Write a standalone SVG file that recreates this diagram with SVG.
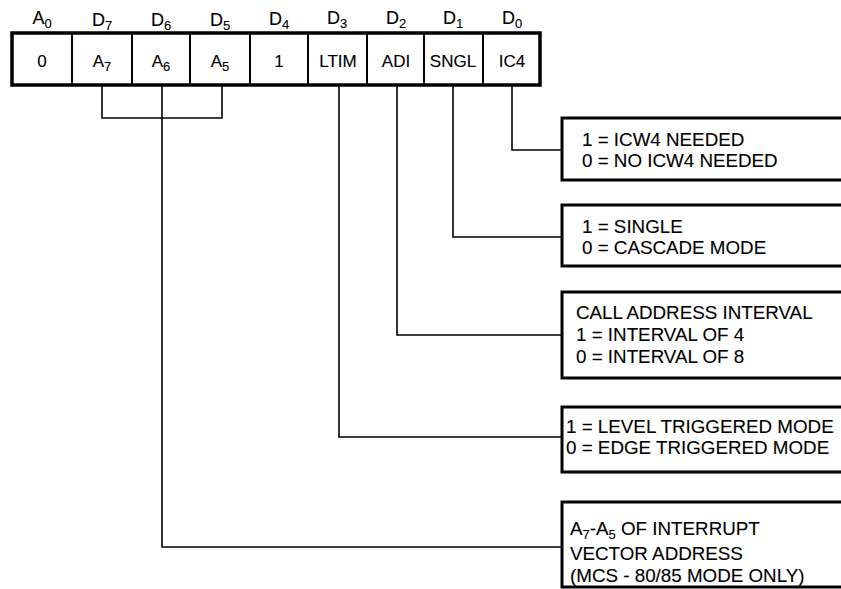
<svg xmlns="http://www.w3.org/2000/svg" width="841" height="589" viewBox="0 0 841 589">
<style>
  text { font-family: "Liberation Sans", Arial, sans-serif; fill: #000; stroke: #000; stroke-width: 0.12; }
  .hdr { font-size: 18px; text-anchor: middle; }
  .cell { font-size: 17px; text-anchor: middle; }
  .desc { font-size: 18.8px; }
  .sub { font-size: 13px; }
  .box { fill: #fff; stroke: #000; stroke-width: 3; }
  .div { stroke: #000; stroke-width: 2; }
  .conn { fill: none; stroke: #000; stroke-width: 1.6; }
</style>
<rect width="841" height="589" fill="#fff"/>

<g id="register">
  <rect x="12" y="33" width="528" height="52" fill="#fff" stroke="#000" stroke-width="3.5"/>
  <line class="div" x1="72" y1="33" x2="72" y2="85"/>
  <line class="div" x1="132" y1="33" x2="132" y2="85"/>
  <line class="div" x1="190" y1="33" x2="190" y2="85"/>
  <line class="div" x1="250" y1="33" x2="250" y2="85"/>
  <line class="div" x1="308" y1="33" x2="308" y2="85"/>
  <line class="div" x1="367" y1="33" x2="367" y2="85"/>
  <line class="div" x1="424" y1="33" x2="424" y2="85"/>
  <line class="div" x1="483" y1="33" x2="483" y2="85"/>
  <text class="hdr" x="42" y="24">A<tspan class="sub" dy="4">0</tspan></text>
  <text class="hdr" x="102" y="26">D<tspan class="sub" dy="4">7</tspan></text>
  <text class="hdr" x="161" y="26">D<tspan class="sub" dy="4">6</tspan></text>
  <text class="hdr" x="220" y="26">D<tspan class="sub" dy="4">5</tspan></text>
  <text class="hdr" x="279" y="25">D<tspan class="sub" dy="4">4</tspan></text>
  <text class="hdr" x="337" y="24">D<tspan class="sub" dy="4">3</tspan></text>
  <text class="hdr" x="396" y="24">D<tspan class="sub" dy="4">2</tspan></text>
  <text class="hdr" x="453" y="24">D<tspan class="sub" dy="4">1</tspan></text>
  <text class="hdr" x="512" y="24">D<tspan class="sub" dy="4">0</tspan></text>
  <text class="cell" x="42" y="67">0</text>
  <text class="cell" x="102" y="67">A<tspan class="sub" dy="4">7</tspan></text>
  <text class="cell" x="161" y="67">A<tspan class="sub" dy="4">6</tspan></text>
  <text class="cell" x="220" y="67">A<tspan class="sub" dy="4">5</tspan></text>
  <text class="cell" x="279" y="67">1</text>
  <text class="cell" x="338" y="67">LTIM</text>
  <text class="cell" x="396" y="67">ADI</text>
  <text class="cell" x="453" y="67">SNGL</text>
  <text class="cell" x="512" y="67">IC4</text>
</g>

<g id="connectors">
  <path class="conn" d="M512 85 V150 H562"/>
  <path class="conn" d="M453 85 V237 H562"/>
  <path class="conn" d="M397 85 V335 H562"/>
  <path class="conn" d="M339 85 V437 H562"/>
  <path class="conn" d="M102 85 V118 H222 V85"/>
  <path class="conn" d="M162 85 V547 H562"/>
</g>

<g id="ic4-box">
  <rect class="box" x="562" y="118" width="290" height="62"/>
  <text class="desc" x="582" y="146">1 = ICW4 NEEDED</text>
  <text class="desc" x="582" y="167">0 = NO ICW4 NEEDED</text>
</g>

<g id="sngl-box">
  <rect class="box" x="562" y="205" width="290" height="61"/>
  <text class="desc" x="582" y="233">1 = SINGLE</text>
  <text class="desc" x="582" y="254">0 = CASCADE MODE</text>
</g>

<g id="adi-box">
  <rect class="box" x="562" y="292" width="290" height="86"/>
  <text class="desc" x="576" y="319">CALL ADDRESS INTERVAL</text>
  <text class="desc" x="576" y="341">1 = INTERVAL OF 4</text>
  <text class="desc" x="576" y="363">0 = INTERVAL OF 8</text>
</g>

<g id="ltim-box">
  <rect class="box" x="562" y="407" width="290" height="65"/>
  <text class="desc" x="566" y="433">1 = LEVEL TRIGGERED MODE</text>
  <text class="desc" x="566" y="454">0 = EDGE TRIGGERED MODE</text>
</g>

<g id="vector-box">
  <rect class="box" x="562" y="502" width="290" height="85"/>
  <text class="desc" x="570" y="535">A<tspan class="sub" dy="4">7</tspan><tspan dy="-4">-A</tspan><tspan class="sub" dy="4">5</tspan><tspan dy="-4"> OF INTERRUPT</tspan></text>
  <text class="desc" x="570" y="560">VECTOR ADDRESS</text>
  <text class="desc" x="570" y="582">(MCS - 80/85 MODE ONLY)</text>
</g>
</svg>
